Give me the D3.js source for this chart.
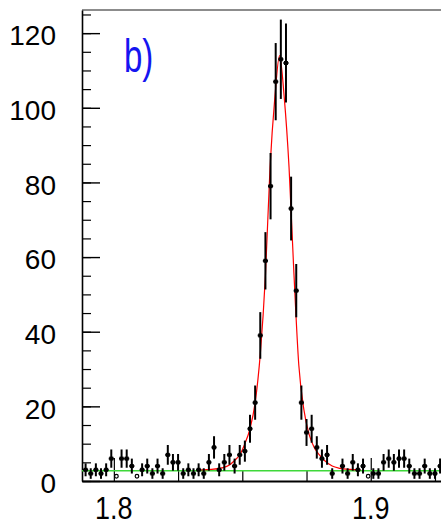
<!DOCTYPE html>
<html>
<head>
<meta charset="utf-8">
<script src="https://cdn.jsdelivr.net/npm/d3@7"></script>
<style>
  body { margin:0; background:#fff; }
  text { font-family: "Liberation Sans", Arial, sans-serif; }
</style>
</head>
<body>
<svg id="chart" width="441" height="527"></svg>
<script>
// histogram bins (centres) and counts
var binCenters = [1.789,1.791,1.793,1.795,1.797,1.799,1.801,1.803,1.805,1.807,
                  1.809,1.811,1.813,1.815,1.817,1.819,1.821,1.823,1.825,1.827,
                  1.829,1.831,1.833,1.835,1.837,1.839,1.841,1.843,1.845,1.847,
                  1.849,1.851,1.853,1.855,1.857,1.859,1.861,1.863,1.865,1.867,
                  1.869,1.871,1.873,1.875,1.877,1.879,1.881,1.883,1.885,1.887,
                  1.889,1.891,1.893,1.895,1.897,1.899,1.901,1.903,1.905,1.907,
                  1.909,1.911,1.913,1.915,1.917,1.919,1.921,1.923,1.925,1.927];
var counts = [3,2,3,2,3,6,1,6,6,4,
              1,3,4,2,4,2,7,5,5,2,
              3,2,3,2,5,9,3,5,7,4,
              7,8,14,21,39,59,79,107,113,112,
              73,51,21,13,14,9,6,7,2,0,
              4,2,5,3,4,1,2,2,5,6,
              5,6,6,4,2,2,4,2,2,4];
var binWidth = 0.002;

// fitted curve (red)
var fitX = [1.834,1.838,1.842,1.845,1.847,1.849,1.851,1.853,1.855,1.857,1.859,
            1.8608,1.8627,1.8645,1.8663,1.8682,1.870,1.872,1.874,1.876,1.878,
            1.880,1.882,1.885,1.888,1.892,1.896];
var fitY = [3.0,3.1,3.5,4.3,5.5,7.0,10,14,21,34,55,
            84,103,114,103,84,57,31,19,12.5,9,
            7,5.5,4,3.4,3.1,3.0];

// flat background (green)
var bkgX = [1.7876, 1.94];
var bkgY = [2.75, 2.75];

var yMajor = [0,20,40,60,80,100,120];
var yMinor = d3.range(0, 126, 5);
var xMajor = [1.8, 1.9];
var xMinor = [1.825, 1.85, 1.875, 1.925];
var xLabels = ["1.8", "1.9"];
var panelLabel = "b)";

var svg = d3.select("#chart");

var x = d3.scaleLinear().domain([1.7876, 1.94]).range([82, 473.5]);
var y = d3.scaleLinear().domain([0, 126.2]).range([481, 10]);

// frame top
svg.append("line")
   .attr("x1", x(1.7876)).attr("x2", 441)
   .attr("y1", y(126.2)).attr("y2", y(126.2))
   .attr("stroke", "#666").attr("stroke-width", 1.5);

// y axis: minor then major ticks
svg.append("g")
   .attr("transform", "translate(" + x(1.7876) + ",0)")
   .call(d3.axisLeft(y).tickValues(yMinor).tickSizeInner(-9).tickSizeOuter(0).tickFormat(""))
   .call(function(g){ g.selectAll("line").attr("stroke","#000").attr("stroke-width",1.2); g.select(".domain").attr("stroke","#000").attr("stroke-width",1.6); });

var yAx = svg.append("g")
   .attr("transform", "translate(" + x(1.7876) + ",0)")
   .call(d3.axisLeft(y).tickValues(yMajor).tickSizeInner(-18).tickSizeOuter(0).tickPadding(26).tickFormat(d3.format("d")));
yAx.select(".domain").remove();
yAx.selectAll("line").attr("stroke","#000").attr("stroke-width",1.4);
yAx.selectAll("text").attr("font-size", 28).attr("dy","0.42em").attr("fill","#000")
   .style("font-family", "'Liberation Sans', Arial, sans-serif");

// x axis
svg.append("g")
   .attr("transform", "translate(0," + y(0) + ")")
   .call(d3.axisBottom(x).tickValues(xMinor).tickSizeInner(-11).tickSizeOuter(0).tickFormat(""))
   .call(function(g){ g.selectAll("line").attr("stroke","#000").attr("stroke-width",1.2); g.select(".domain").attr("stroke","#000").attr("stroke-width",2); });

var xAx = svg.append("g")
   .attr("transform", "translate(0," + y(0) + ")")
   .call(d3.axisBottom(x).tickValues(xMajor).tickSizeInner(-23).tickSizeOuter(0).tickFormat(""));
xAx.select(".domain").remove();
xAx.selectAll("line").attr("stroke","#000").attr("stroke-width",1.2);

// x labels (slightly tall glyphs as in the original)
svg.selectAll(".xlab")
   .data(xMajor)
   .enter().append("text")
   .attr("class","xlab")
   .attr("transform", function(d){ return "translate(" + x(d) + ",519) scale(1,1.18)"; })
   .attr("text-anchor","middle")
   .attr("font-size", 27)
   .attr("fill","#000")
   .text(function(d,i){ return xLabels[i]; });

// background line
var line = d3.line().x(function(d){ return x(d[0]); }).y(function(d){ return y(d[1]); });
svg.append("path")
   .datum(d3.zip(bkgX, bkgY))
   .attr("d", line)
   .attr("fill","none").attr("stroke","#3fd83a").attr("stroke-width",1.6);

// fit curve
svg.append("path")
   .datum(d3.zip(fitX, fitY))
   .attr("d", line.curve(d3.curveMonotoneX))
   .attr("fill","none").attr("stroke","#f00").attr("stroke-width",1.2);

// data points with errors
var pts = d3.zip(binCenters, counts).filter(function(d){ return d[1] > 0; });
var big = pts.filter(function(d){ return d[1] > 1; });
var ones = pts.filter(function(d){ return d[1] == 1; });

var g = svg.append("g").attr("stroke","#000");
g.selectAll(".ev").data(big).enter().append("line")
   .attr("x1", function(d){ return x(d[0]); }).attr("x2", function(d){ return x(d[0]); })
   .attr("y1", function(d){ return y(d[1] - Math.sqrt(d[1])); })
   .attr("y2", function(d){ return y(d[1] + Math.sqrt(d[1])); })
   .attr("stroke-width", 2);
g.selectAll(".eh").data(big).enter().append("line")
   .attr("x1", function(d){ return x(d[0] - binWidth/2); })
   .attr("x2", function(d){ return x(d[0] + binWidth/2); })
   .attr("y1", function(d){ return y(d[1]); }).attr("y2", function(d){ return y(d[1]); })
   .attr("stroke-width", 2);
g.selectAll(".mk").data(big).enter().append("rect")
   .attr("x", function(d){ return x(d[0]) - 2; })
   .attr("y", function(d){ return y(d[1]) - 2; })
   .attr("width", 4).attr("height", 4)
   .attr("fill","#000").attr("stroke","none");
g.selectAll(".o").data(ones).enter().append("circle")
   .attr("cx", function(d){ return x(d[0]); })
   .attr("cy", function(d){ return y(d[1]) - 1; })
   .attr("r", 1.8)
   .attr("fill","none").attr("stroke-width", 1.2);

// panel label
svg.append("text")
   .attr("transform", "translate(124,71.5) scale(1,1.4)")
   .attr("font-size", 33)
   .attr("fill", "#1515f0")
   .text(panelLabel);
</script>
</body>
</html>
